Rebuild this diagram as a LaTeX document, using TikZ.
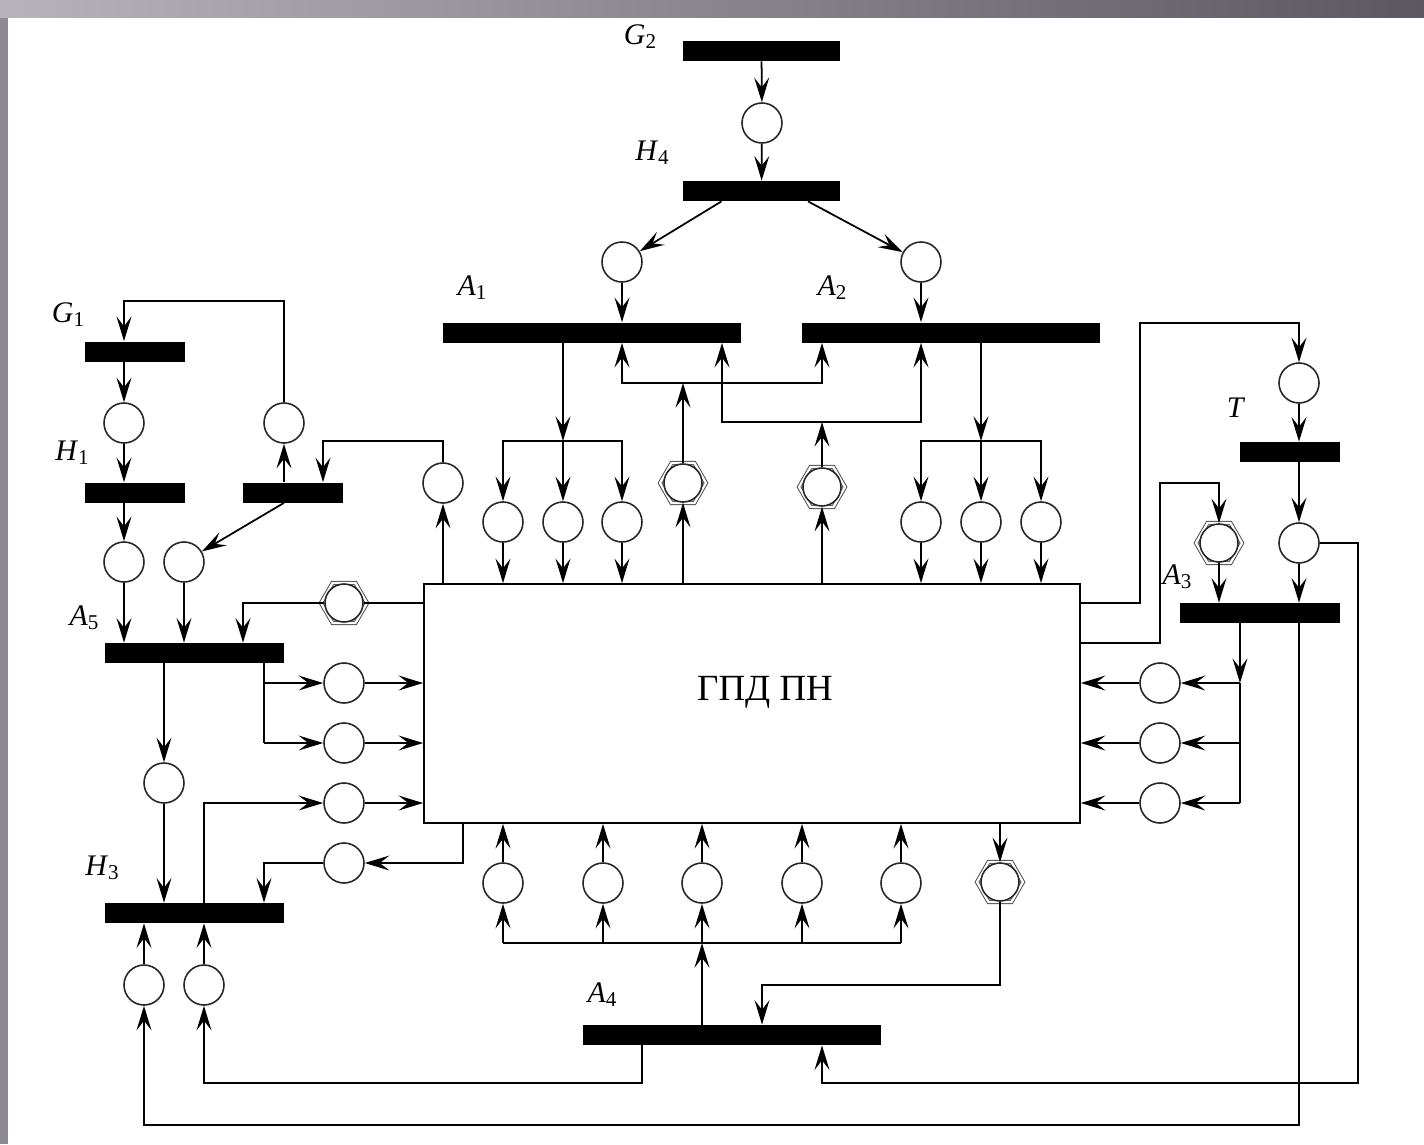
\documentclass[tikz,border=0pt]{standalone}
\usepackage{fontspec}
\setmainfont{Liberation Serif}
\usetikzlibrary{arrows.meta}
\definecolor{framelight}{RGB}{182,179,186}
\definecolor{framedark}{RGB}{92,88,98}
\definecolor{frameside}{RGB}{140,137,145}
\newcommand\lsub[1]{\raisebox{-0.3ex}{\fontsize{12}{12}\selectfont #1}}

\begin{document}
\begin{tikzpicture}[x=0.02cm, y=-0.02cm,
    place/.style={circle, draw=black!85, line width=0.9pt, fill=white, minimum size=0.8cm, inner sep=0pt},
    hexplace/.style={place, minimum size=0.76cm},
    hexline/.style={draw=black!70, double=white, double distance=1.3pt, line width=0.55pt, line join=miter},
    bar/.style={rectangle, fill=black, minimum height=0.4cm, inner sep=0pt},
    arc/.style={-{Stealth[length=14pt, width=8.5pt, inset=5.5pt]}, line width=1pt},
    line/.style={line width=1pt},
    lbl/.style={font=\fontsize{17}{20}\selectfont}]
    \useasboundingbox (0,0) rectangle (1424,1144);

    % Slide frame
    \fill[frameside] (0,0) rectangle (8,1144);
    \shade[left color=framelight, right color=framedark] (0,0) rectangle (1424,17);

    % Main block
    \node[draw, line width=1pt, minimum width=13.12cm, minimum height=4.78cm] (gpd) at (752,703.5) {};
    \node[font=\fontsize{21}{24}\selectfont] (gpdtext) at (765,692) {ГПД ПН};

    % Transitions
    \node[bar, minimum width=3.14cm] (G2) at (761.5,51) {};
    \node[bar, minimum width=3.14cm] (H4) at (761.5,191) {};
    \node[bar, minimum width=5.96cm] (A1) at (592,332.5) {};
    \node[bar, minimum width=5.96cm] (A2) at (951,332.5) {};
    \node[bar, minimum width=2cm] (G1) at (135,351.5) {};
    \node[bar, minimum width=2cm] (H1) at (135,492.5) {};
    \node[bar, minimum width=2cm] (R1) at (293,492.5) {};
    \node[bar, minimum width=3.58cm] (A5) at (194.5,653) {};
    \node[bar, minimum width=3.58cm] (H3) at (194.5,913) {};
    \node[bar, minimum width=5.96cm] (A4) at (732,1035) {};
    \node[bar, minimum width=2cm] (T) at (1290,452) {};
    \node[bar, minimum width=3.2cm] (A3) at (1260,613) {};

    % Transition labels
    \node[lbl] (G2l) at (640,37) {\textit{G}\lsub{2}};
    \node[lbl] (H4l) at (652,153) {\textit{H}\lsub{4}};
    \node[lbl] (A1l) at (472,288) {\textit{A}\lsub{1}};
    \node[lbl] (A2l) at (832,288) {\textit{A}\lsub{2}};
    \node[lbl] (G1l) at (68,315) {\textit{G}\lsub{1}};
    \node[lbl] (H1l) at (72,453) {\textit{H}\lsub{1}};
    \node[lbl] (A5l) at (84,618) {\textit{A}\lsub{5}};
    \node[lbl] (H3l) at (102,868) {\textit{H}\lsub{3}};
    \node[lbl] (A4l) at (602,995) {\textit{A}\lsub{4}};
    \node[lbl] (Tl) at (1236,408) {\textit{T}};
    \node[lbl] (A3l) at (1177,577) {\textit{A}\lsub{3}};

    % Places
    \node[place] (pG2) at (762,123) {};
    \node[place] (pA1) at (622,262) {};
    \node[place] (pA2) at (921,262) {};
    \foreach \n/\x in {o11/503, o12/563, o13/622, o21/921, o22/981, o23/1041}
        \node[place] (\n) at (\x,522) {};
    \node[place] (pr) at (443,483) {};
    \node[place] (pG1) at (124,423) {};
    \node[place] (pR) at (284,423) {};
    \node[place] (pH1) at (124,562) {};
    \node[place] (pR2) at (184,562) {};
    \foreach \n/\y in {l1/683, l2/743, l3/803, l4/863}
        \node[place] (\n) at (344,\y) {};
    \node[place] (pA5) at (164,783) {};
    \node[place] (q1) at (144,985) {};
    \node[place] (q2) at (204,985) {};
    \foreach \n/\x in {b1/503, b2/603, b3/702, b4/802, b5/901}
        \node[place] (\n) at (\x,883) {};
    \node[place] (pT) at (1299,383) {};
    \node[place] (pT2) at (1299,543) {};
    \foreach \n/\y in {r1/683, r2/743, r3/803}
        \node[place] (\n) at (1160,\y) {};

    % Hexagon places
    \foreach \n/\x/\y in {hx1/683/483, hx2/822/487, hx3/344/603, hx4/1000/882, hx5/1219/543} {
        \draw[hexline] (\x,\y) +(0:23) -- +(60:23) -- +(120:23) -- +(180:23) -- +(240:23) -- +(300:23) -- cycle;
        \node[hexplace] (\n) at (\x,\y) {};
    }

    % Junction points
    \coordinate (j1) at (683,383);
    \coordinate (j2) at (822,422);
    \coordinate (j2l) at (722,422);
    \coordinate (k1) at (563,441);
    \coordinate (k2) at (981,441);
    \coordinate (k3) at (323,441);
    \coordinate (k4) at (124,301);
    \coordinate (k5) at (243,603);
    \coordinate (k6) at (264,683);
    \coordinate (k7) at (264,743);
    \coordinate (k9) at (463,863);
    \coordinate (k10) at (642,1083);
    \coordinate (k11) at (1299,1125);
    \coordinate (k12) at (702,943);
    \coordinate (k13) at (762,985);
    \coordinate (k14) at (1358,1083);
    \coordinate (k15) at (822,1083);
    \coordinate (k16) at (1140,323);
    \coordinate (k17) at (1160,483);
    \coordinate (k18) at (1160,643);
    \coordinate (k19) at (1240,683);

    % Top chain
    \draw[arc] (G2) -- (pG2);
    \draw[arc] (pG2) -- (H4);
    \draw[arc] ([xshift=-0.8cm]H4.south) -- (pA1);
    \draw[arc] ([xshift=0.93cm]H4.south) -- (pA2);
    \draw[arc] (pA1) -- (pA1 |- A1.north);
    \draw[arc] (pA2) -- (pA2 |- A2.north);

    % A1 and A2 outputs
    \draw[arc] (A1.south -| k1) -- (k1);
    \draw[arc] (k1) -| (o11);
    \draw[arc] (k1) -- (o12);
    \draw[arc] (k1) -| (o13);
    \draw[arc] (A2.south -| k2) -- (k2);
    \draw[arc] (k2) -| (o21);
    \draw[arc] (k2) -- (o22);
    \draw[arc] (k2) -| (o23);
    \foreach \n in {o11, o12, o13, o21, o22, o23}
        \draw[arc] (\n) -- (\n |- gpd.north);

    % Feedback to A1 and A2
    \draw[arc] (hx1 |- gpd.north) -- (hx1);
    \draw[arc] (hx2 |- gpd.north) -- (hx2);
    \draw[arc] (hx1) -- (j1);
    \draw[arc] (j1) -| (pA1 |- A1.south);
    \draw[arc] (j1) -| (hx2 |- A2.south);
    \draw[arc] (hx2) -- (j2);
    \draw[arc] (j2) -- (j2l) -- (j2l |- A1.south);
    \draw[arc] (j2) -| (pA2 |- A2.south);

    % Left upper part
    \draw[arc] (pr |- gpd.north) -- (pr);
    \draw[arc] (pr) |- (k3) -- (k3 |- R1.north);
    \draw[arc] (pR) |- (k4) -- (k4 |- G1.north);
    \draw[arc] (G1.south -| pG1) -- (pG1);
    \draw[arc] (pG1) -- (pG1 |- H1.north);
    \draw[arc] (H1.south -| pH1) -- (pH1);
    \draw[arc] (R1.north -| pR) -- (pR);
    \draw[arc] (R1.south -| pR) -- (pR2);
    \draw[arc] (pH1) -- (pH1 |- A5.north);
    \draw[arc] (pR2) -- (pR2 |- A5.north);
    \draw[line] (gpd.west |- hx3) -- (hx3);
    \draw[arc] (hx3) -- (k5) -- (k5 |- A5.north);

    % A5 outputs
    \draw[line] (A5.south -| k6) -- (k7);
    \draw[arc] (k6) -- (l1);
    \draw[arc] (k7) -- (l2);
    \draw[arc] (l1) -- (l1 -| gpd.west);
    \draw[arc] (l2) -- (l2 -| gpd.west);
    \draw[arc] (A5.south -| pA5) -- (pA5);
    \draw[arc] (pA5) -- (pA5 |- H3.north);

    % H3 links
    \draw[arc] (H3.north -| q2) |- (l3);
    \draw[arc] (l3) -- (l3 -| gpd.west);
    \draw[arc] (k9 |- gpd.south) -- (k9) -- (l4);
    \draw[arc] (l4) -| (k6 |- H3.north);
    \draw[arc] (q1) -- (q1 |- H3.south);
    \draw[arc] (q2) -- (q2 |- H3.south);
    \draw[arc] (A4.south -| k10) -- (k10) -| (q2);
    \draw[arc] (A3.south -| k11) -- (k11) -| (q1);

    % Bottom part
    \foreach \n in {b1, b2, b3, b4, b5} {
        \draw[arc] (\n) -- (\n |- gpd.south);
        \draw[arc] (\n |- k12) -- (\n);
    }
    \draw[line] (b1 |- k12) -- (b5 |- k12);
    \draw[arc] (A4.north -| k12) -- (k12);
    \draw[arc] (hx4 |- gpd.south) -- (hx4);
    \draw[arc] (hx4) |- (k13) -- (k13 |- A4.north);
    \draw[arc] (pT2) -| (k14) -- (k15) -- (k15 |- A4.south);

    % Right part
    \draw[arc] (gpd.east |- hx3) -| (k16) -| (pT);
    \draw[arc] (pT) -- (pT |- T.north);
    \draw[arc] (T.south -| pT2) -- (pT2);
    \draw[arc] (pT2) -- (pT2 |- A3.north);
    \draw[arc] (k18 -| gpd.east) -- (k18) -- (k17) -| (hx5);
    \draw[arc] (hx5) -- (hx5 |- A3.north);

    % A3 outputs
    \draw[arc] (A3.south -| k19) -- (k19);
    \draw[line] (k19) -- (r3 -| k19);
    \foreach \n in {r1, r2, r3}
        \draw[arc] (\n -| k19) -- (\n);
    \foreach \n in {r1, r2, r3}
        \draw[arc] (\n) -- (\n -| gpd.east);
\end{tikzpicture}
\end{document}
